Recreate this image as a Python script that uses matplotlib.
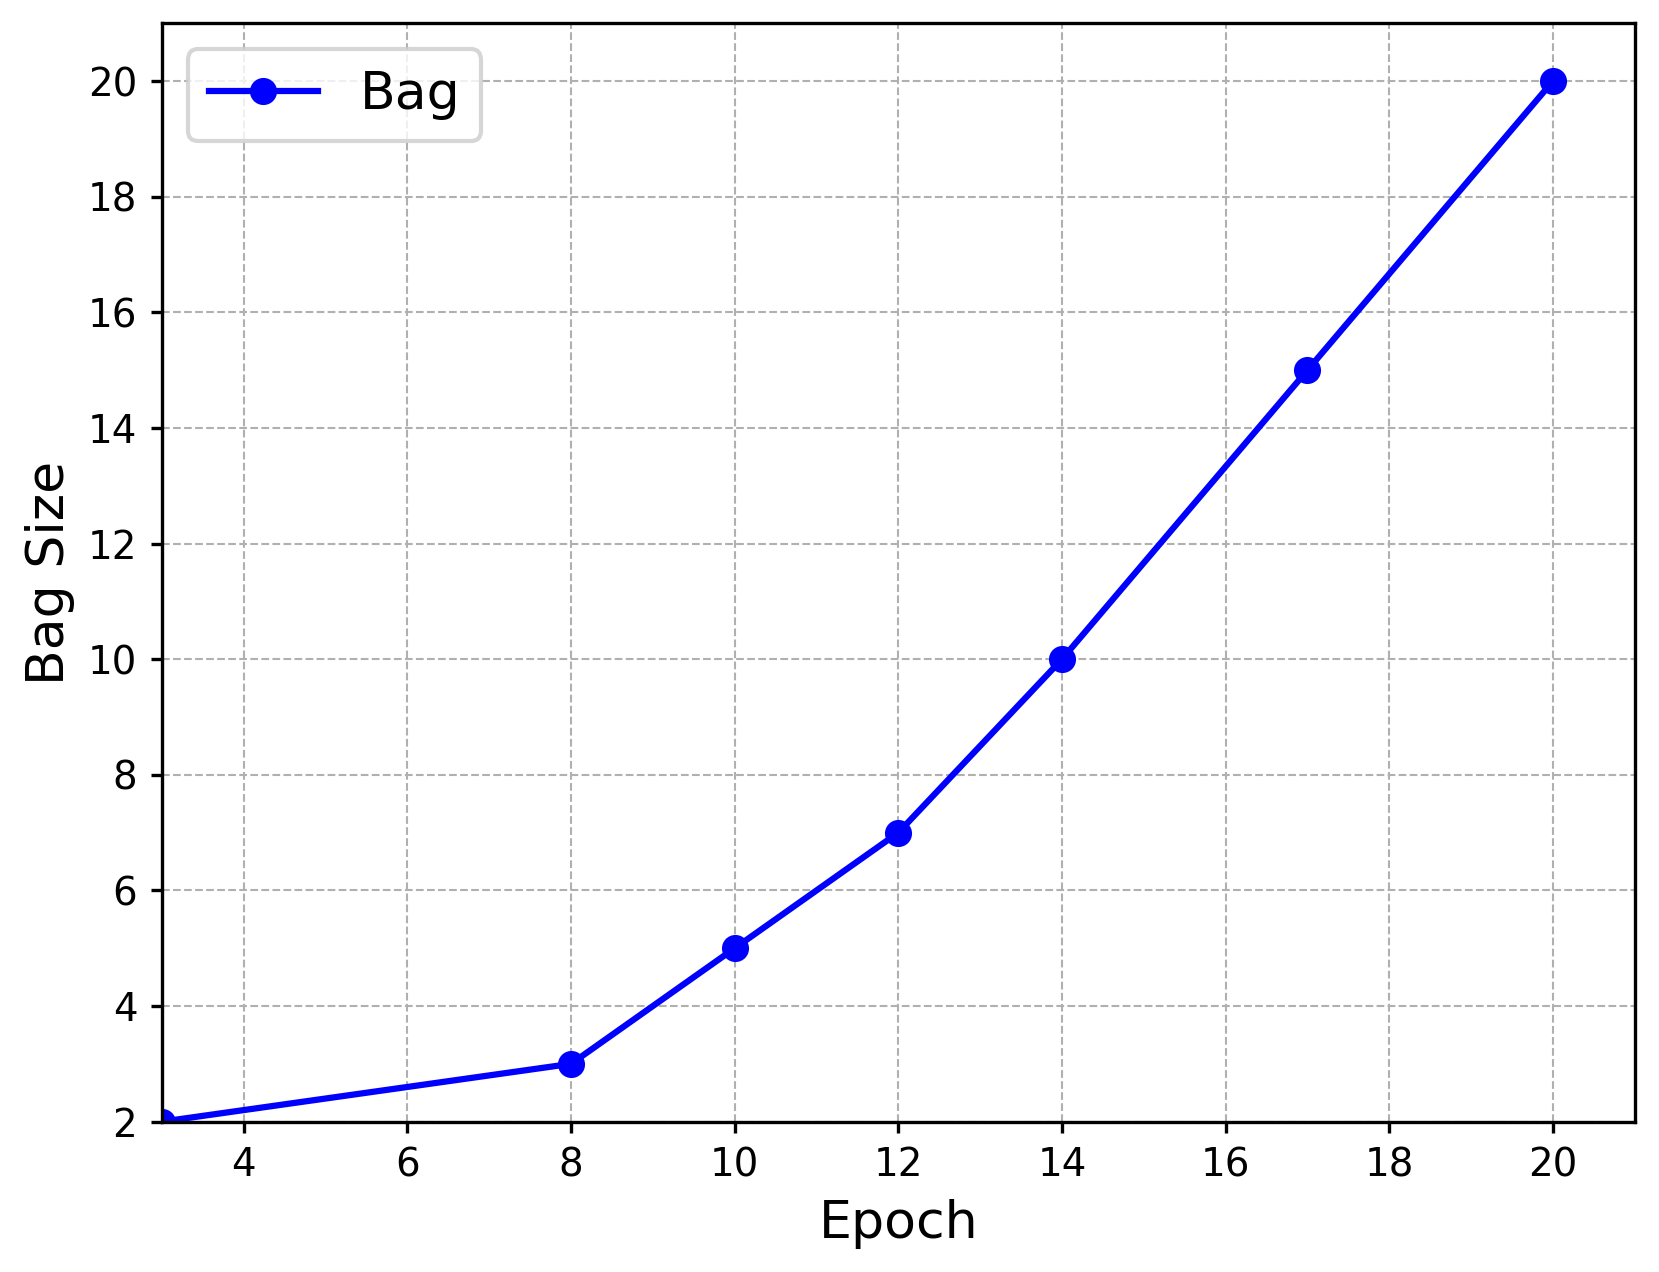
import matplotlib
matplotlib.use("Agg")
import matplotlib.pyplot as plt

epochs = [3, 8, 10, 12, 14, 17, 20]
bag_sizes = [2, 3, 5, 7, 10, 15, 20]
series_label = "Bag"
x_label = "Epoch"
y_label = "Bag Size"
x_ticks = [4, 6, 8, 10, 12, 14, 16, 18, 20]
y_ticks = [2, 4, 6, 8, 10, 12, 14, 16, 18, 20]

dpi = 300
fig = plt.figure(figsize=(1659 / dpi, 1272 / dpi), dpi=dpi)
ax = fig.add_axes([0.0976, 0.1182, 0.8878, 0.8635])

ax.plot(epochs, bag_sizes, color="blue", marker="o", linewidth=1.5,
        markersize=5.5, label=series_label, clip_on=True)

ax.set_xlim(3, 21)
ax.set_ylim(2, 21)
ax.set_xticks(x_ticks)
ax.set_yticks(y_ticks)
ax.tick_params(labelsize=9.3, length=2.7, pad=3.2)
ax.set_xlabel(x_label, fontsize=12.5, labelpad=3.5)
ax.set_ylabel(y_label, fontsize=12.5, labelpad=3)
ax.grid(True, linestyle="--", linewidth=0.5, color="#b0b0b0")
ax.legend(loc="upper left", fontsize=12.5, handlelength=2.1)

fig.savefig("out.png", dpi=dpi)
